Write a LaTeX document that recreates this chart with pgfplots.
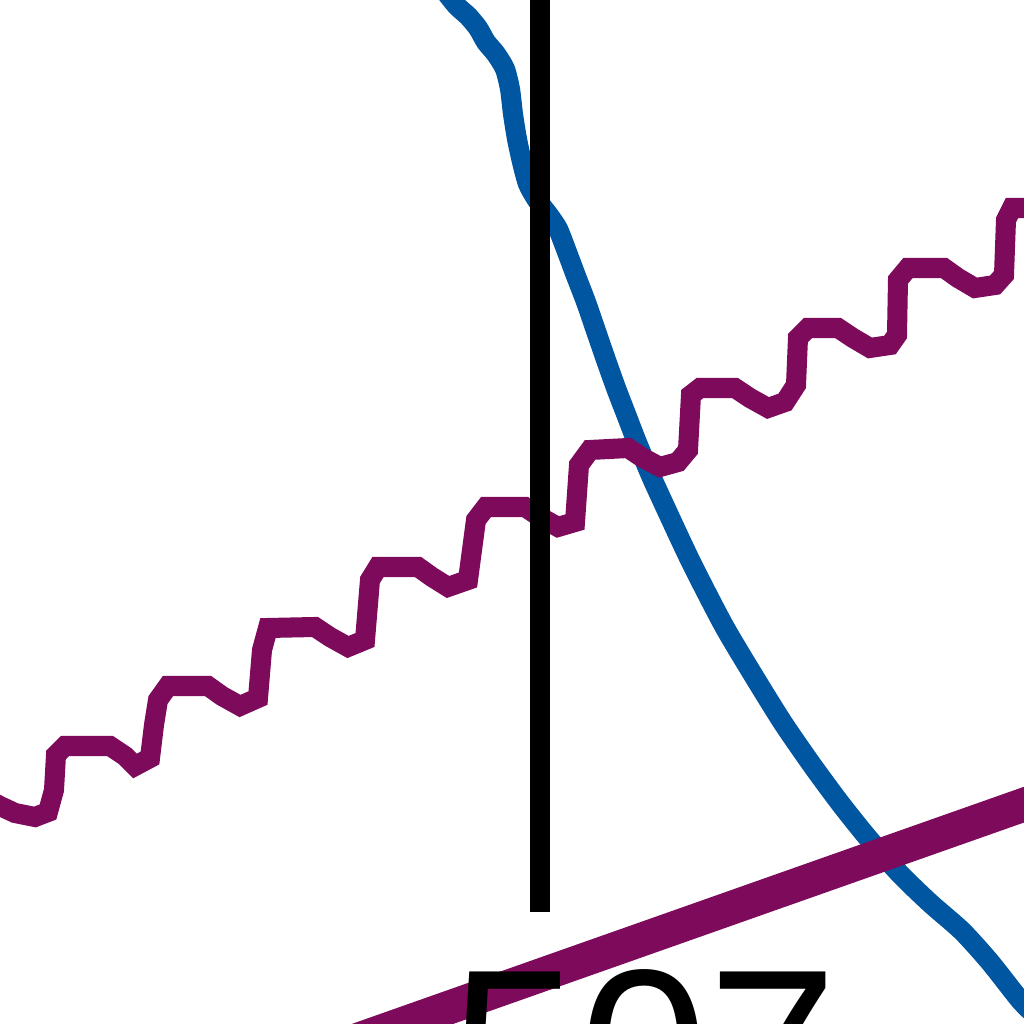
\documentclass[border=0pt]{standalone}
\usepackage{fontspec}
\setmainfont{Liberation Sans}
\usepackage{pgfplots}
\pgfplotsset{compat=1.18}
\definecolor{lineblue}{RGB}{0,86,160}
\definecolor{plum}{RGB}{125,10,90}
\begin{document}
\begin{tikzpicture}
\begin{axis}[width=10.24cm,height=10.24cm,scale only axis,
  xmin=0,xmax=1024,ymin=0,ymax=1024,hide axis]
% blue falling curve
\addplot[lineblue,line width=5.7pt,line join=round,smooth,tension=0.4] coordinates {
(438,1042)(456,1019)(468,1008)(478,996)(486,982)(496,970)(505,955)(510,935)
(513,910)(517,885)(522,862)(528,840)(537,824)(548,810)(558,795)(567,772)
(576,748)(586,722)(596,693)(606,664)(616,636)(626,610)(636,584)(646,560)
(656,537)(690,464)(724,398)(755,346)(783,301)(812,259)(840,221)(868,186)
(900,150)(930,121)(962,93)(990,62)(1020,24)(1035,9)};
% purple stepped series
\addplot[plum,line width=5.7pt,line join=miter] coordinates {
(-15,226)(0,218)(15,211)(35,207)(48,212)(54,234)(56,269)(65,278)(110,278)
(125,268)(135,258)(150,266)(154,299)(158,324)(168,338)(208,338)(222,328)
(240,318)(258,326)(262,374)(268,396)(315,397)(330,387)(348,377)(365,384)
(370,444)(378,457)(418,457)(432,447)(448,437)(468,444)(476,504)(486,517)
(525,517)(540,507)(558,497)(575,502)(579,559)(590,574)(628,576)(643,566)
(660,557)(678,562)(688,574)(691,629)(700,636)(735,636)(750,626)(768,616)
(785,622)(796,639)(798,686)(808,696)(838,696)(853,686)(870,676)(890,679)
(897,689)(898,744)(908,756)(944,756)(958,746)(975,736)(995,739)(1004,749)
(1006,804)(1012,816)(1035,816)};
% thick purple trend line
\addplot[plum,line width=9.6pt] coordinates {(340,-22)(1040,225)};
% black vertical marker
\addplot[black,line width=5.7pt] coordinates {(540,112)(540,1040)};
\node[anchor=base west,inner sep=0pt,font=\fontsize{66}{70}\selectfont]
  at (axis cs:450,-107) {507};
\end{axis}
\pgfresetboundingbox
\useasboundingbox (current axis.south west) rectangle (current axis.north east);
\end{tikzpicture}
\end{document}
